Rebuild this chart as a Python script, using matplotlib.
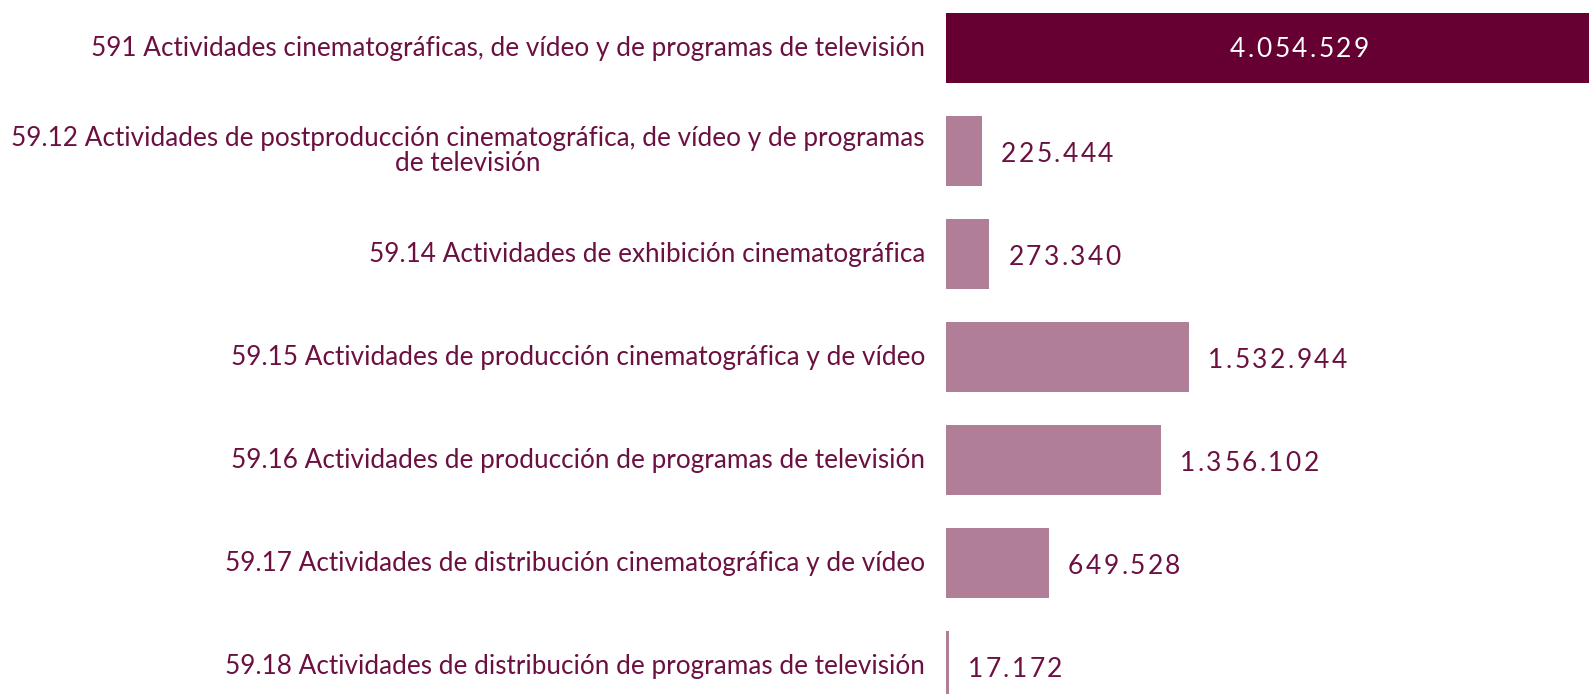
import numpy as np
import matplotlib.pyplot as plt
from matplotlib.font_manager import FontProperties

labels = [
    "591 Actividades cinematográficas, de vídeo y de programas de televisión",
    "59.12 Actividades de postproducción cinematográfica, de vídeo y de programas\nde televisión",
    "59.14 Actividades de exhibición cinematográfica",
    "59.15 Actividades de producción cinematográfica y de vídeo",
    "59.16 Actividades de producción de programas de televisión",
    "59.17 Actividades de distribución cinematográfica y de vídeo",
    "59.18 Actividades de distribución de programas de televisión",
]
values = [4054529, 225444, 273340, 1532944, 1356102, 649528, 17172]
value_text = ["4.054.529", "225.444", "273.340", "1.532.944", "1.356.102", "649.528", "17.172"]

dark = "#670032"
light = "#b07f97"
txt = "#6b1040"

fig = plt.figure(figsize=(15.89, 6.94), dpi=100)
ax = fig.add_axes([0.5953, 0, 0.4047, 1])
renderer = fig.canvas.get_renderer()

y = np.arange(len(values))
colors = [dark] + [light] * (len(values) - 1)
ax.barh(y, values, height=0.68, color=colors)
ax.set_xlim(0, values[0])
ax.set_ylim(6.27, -0.466)
ax.axis("off")

vfont = FontProperties(family="Lato", size=19)


def tracked(x, yy, s, dx, dy, color, track=2.4, center=False):
    # place characters one by one to get letter spacing
    widths = [renderer.get_text_width_height_descent(c, vfont, ismath=False)[0] for c in s]
    total = sum(widths) + track * (len(s) - 1)
    pos = dx - total / 2 if center else dx
    for c, w in zip(s, widths):
        ax.annotate(c, (x, yy), xytext=(pos, dy), textcoords="offset pixels",
                    ha="left", va="center", color=color, fontproperties=vfont)
        pos += w + track


for i, (v, t) in enumerate(zip(values, value_text)):
    if i == 0:
        tracked(v / 2, i, t, 32, -1, "white", center=True)
    else:
        tracked(v, i, t, 19, -3, txt)
    ax.annotate(labels[i], (0, i), xytext=(-21, 0), textcoords="offset pixels",
                ha="right", va="center", ma="center", color=txt, fontsize=18.8,
                family="Lato", linespacing=0.97)

fig.savefig("out.png", dpi=100)
